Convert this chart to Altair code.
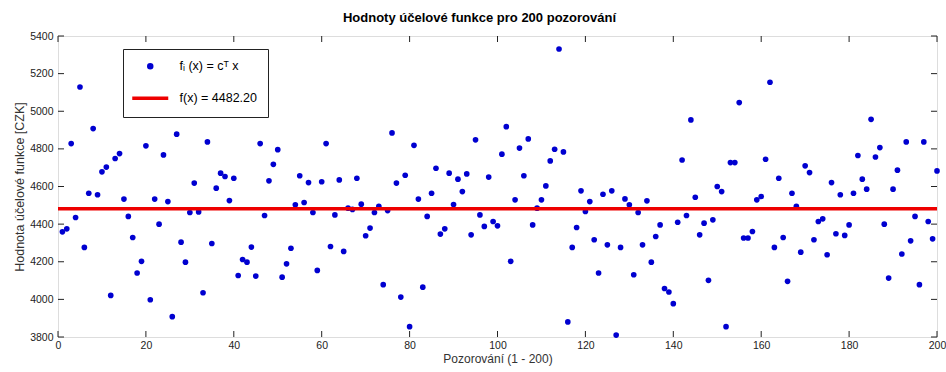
import altair as alt
import pandas as pd

TITLE = "Hodnoty účelové funkce pro 200 pozorování"
X_TITLE = "Pozorování (1 - 200)"
Y_TITLE = "Hodnota účelové funkce [CZK]"
LABEL_POINTS = "fᵢ (x) = cᵀ x"
LABEL_MEAN = "f(x) = 4482.20"
MEAN_VALUE = 4482.20

observations = list(range(1, 201))
values = [
    4359, 4375, 4828, 4435, 5129, 4276, 4564, 4908, 4556, 4678,
    4703, 4021, 4749, 4775, 4533, 4441, 4329, 4140, 4202, 4816,
    3998, 4533, 4400, 4768, 4520, 3908, 4878, 4304, 4198, 4462,
    4618, 4465, 4035, 4837, 4297, 4591, 4671, 4653, 4525, 4644,
    4127, 4212, 4198, 4278, 4124, 4828, 4446, 4630, 4718, 4796,
    4118, 4189, 4272, 4503, 4657, 4515, 4621, 4462, 4154, 4625,
    4828, 4281, 4449, 4635, 4255, 4485, 4478, 4644, 4506, 4338,
    4379, 4462, 4494, 4078, 4472, 4885, 4618, 4012, 4660, 3855,
    4819, 4533, 4065, 4441, 4564, 4697, 4347, 4375, 4671, 4504,
    4639, 4573, 4667, 4343, 4848, 4449, 4388, 4650, 4414, 4391,
    4772, 4918, 4202, 4529, 4804, 4657, 4853, 4396, 4485, 4529,
    4603, 4736, 4798, 5331, 4784, 3880, 4276, 4382, 4577, 4467,
    4520, 4317, 4140, 4559, 4290, 4577, 3810, 4276, 4534, 4503,
    4131, 4462, 4290, 4524, 4198, 4334, 4396, 4058, 4039, 3977,
    4410, 4741, 4446, 4954, 4543, 4343, 4405, 4101, 4423, 4600,
    4573, 3855, 4727, 4727, 5046, 4326, 4326, 4361, 4529, 4547,
    4745, 5154, 4276, 4644, 4329, 4096, 4564, 4494, 4251, 4710,
    4674, 4317, 4414, 4428, 4237, 4621, 4349, 4556, 4340, 4396,
    4564, 4765, 4639, 4586, 4957, 4757, 4807, 4400, 4113, 4586,
    4687, 4241, 4837, 4311, 4441, 4078, 4837, 4414, 4322, 4683,
]
mean_x = [0, 200]
x_ticks = [0, 20, 40, 60, 80, 100, 120, 140, 160, 180, 200]
y_ticks = [3800, 4000, 4200, 4400, 4600, 4800, 5000, 5200, 5400]

pts = pd.DataFrame({"obs": observations, "value": values, "series": LABEL_POINTS})
mean_df = pd.DataFrame({"obs": mean_x, "value": [MEAN_VALUE] * len(mean_x), "series": LABEL_MEAN})
xt = pd.DataFrame({"t": x_ticks})
yt = pd.DataFrame({"t": y_ticks})

W, H = 879, 301
FONT = "Liberation Sans Narrow, Arial Narrow, Liberation Sans, Arial, sans-serif"
TFONT = "Liberation Sans, Arial, sans-serif"

xscale = alt.Scale(domain=[0, 200], nice=False, zero=False)
yscale = alt.Scale(domain=[3800, 5400], nice=False, zero=False)

xaxis = alt.Axis(values=x_ticks, title=X_TITLE, domain=False, ticks=False, grid=False,
                 labelPadding=3, labelFont=FONT, labelFontSize=10.5, labelColor="#222",
                 titleFont=TFONT, titleFontSize=12, titleFontWeight="normal", titleColor="#333",
                 titleY=16, titleBaseline="top", labelFlush=False)
yaxis = alt.Axis(values=y_ticks, title=Y_TITLE, domain=False, ticks=False, grid=False,
                 labelPadding=5, labelFont=FONT, labelFontSize=10.5, labelColor="#222", format="d",
                 titleFont=TFONT, titleFontSize=12.5, titleFontWeight="normal", titleColor="#333",
                 titleX=-32, titleY=H / 2, titleAngle=270, titleBaseline="bottom", titleAlign="center",
                 labelFlush=False)

domain = [LABEL_POINTS, LABEL_MEAN]
color_scale = alt.Scale(domain=domain, range=["#0000d0", "#ee0000"])
shape_scale = alt.Scale(domain=domain, range=["circle", "M-12,0L12,0"])
legend = alt.Legend(title=None, orient="none", legendX=65, legendY=13, fillColor="white",
                    strokeColor="#222", padding=11, rowPadding=16, labelOffset=23, symbolOffset=10,
                    symbolSize=9, symbolStrokeWidth=3.5, labelFont=TFONT, labelFontSize=12.5,
                    labelColor="black")

x_enc = alt.X("obs:Q", scale=xscale, axis=xaxis)
y_enc = alt.Y("value:Q", scale=yscale, axis=yaxis)

points = alt.Chart(pts).mark_point(filled=True, size=32, opacity=1).encode(
    x=x_enc, y=y_enc,
    color=alt.Color("series:N", scale=color_scale, legend=legend),
    shape=alt.Shape("series:N", scale=shape_scale, legend=legend),
)
line = alt.Chart(mean_df).mark_line(strokeWidth=3.5).encode(
    x=x_enc, y=y_enc,
    color=alt.Color("series:N", scale=color_scale, legend=legend),
)

TL = 6
tick_bottom = alt.Chart(xt).mark_rule(color="#222").encode(
    x=alt.X("t:Q", scale=xscale, axis=xaxis), y=alt.value(H), y2=alt.value(H - TL))
tick_top = alt.Chart(xt).mark_rule(color="#222").encode(
    x=alt.X("t:Q", scale=xscale, axis=xaxis), y=alt.value(0), y2=alt.value(TL))
tick_left = alt.Chart(yt).mark_rule(color="#222").encode(
    y=alt.Y("t:Q", scale=yscale, axis=yaxis), x=alt.value(0), x2=alt.value(TL))
tick_right = alt.Chart(yt).mark_rule(color="#222").encode(
    y=alt.Y("t:Q", scale=yscale, axis=yaxis), x=alt.value(W), x2=alt.value(W - TL))

chart = alt.layer(points, line, tick_bottom, tick_top, tick_left, tick_right).properties(
    width=W, height=H,
    title=alt.Title(TITLE, font=TFONT, fontSize=13, fontWeight="bold", color="black",
                    offset=6, dx=-18, anchor="middle"),
    padding={"left": 58, "top": 36, "right": 9, "bottom": 35},
    autosize=alt.AutoSizeParams(type="none"),
).configure_view(stroke="#222", strokeWidth=1).configure(background="white")

chart.save("out.html", embed_options={"renderer": "svg", "actions": False})
